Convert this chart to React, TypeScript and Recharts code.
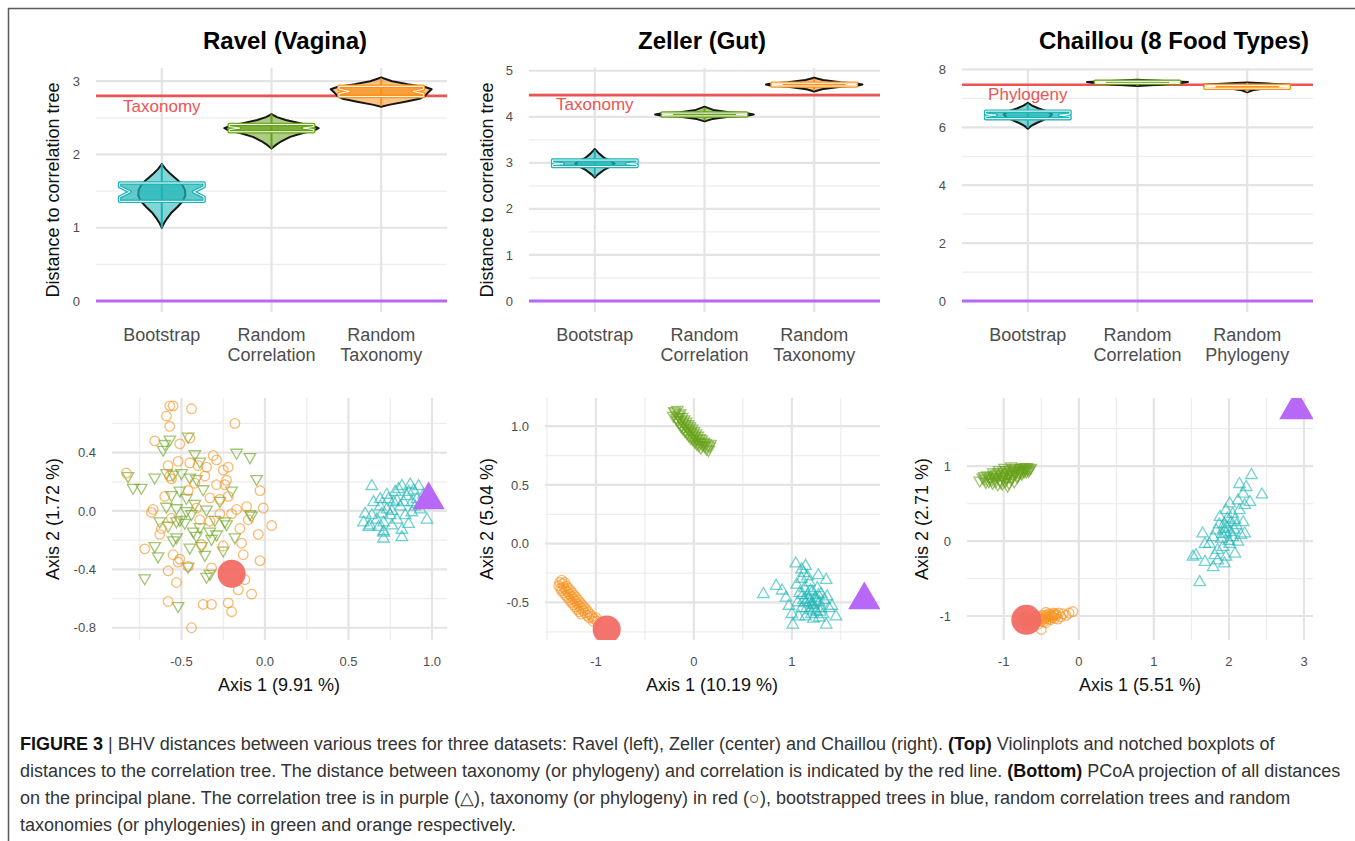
"use client";

import React from "react";
import { ScatterChart, Scatter, XAxis, YAxis, ReferenceLine } from "recharts";

const FONT = "'Liberation Sans', Arial, Helvetica, sans-serif";

const TEAL = "#1DB4B7";
const GREEN = "#68A21A";
const ORANGE = "#F7921E";
const RED = "#F26B65";
const RED_LINE = "#EC5453";
const PURPLE = "#B868F6";
const OUTLINE = "#161616";
const GRID_MAJOR = "#E4E4E4";
const GRID_MINOR = "#EDEDED";
const TICK = "#4D4D4D";

// plot-area padding inside every chart box
const PAD_L = 60;
const PAD_T = 10;
const PAD_R = 10;
const PAD_B = 70;

// ---------- top row: distances to the correlation tree ----------
const ravelGroups = [["Bootstrap"], ["Random", "Correlation"], ["Random", "Taxonomy"]];
const zellerGroups = [["Bootstrap"], ["Random", "Correlation"], ["Random", "Taxonomy"]];
const chaillouGroups = [["Bootstrap"], ["Random", "Correlation"], ["Random", "Phylogeny"]];

// violin outlines: [distance, half width of density]
const ravelBootViolin = [[1.0, 0], [1.06, 0.02], [1.12, 0.045], [1.2, 0.085], [1.28, 0.14], [1.36, 0.19], [1.44, 0.215], [1.52, 0.21], [1.6, 0.18], [1.67, 0.13], [1.74, 0.075], [1.8, 0.035], [1.87, 0]];
const ravelCorrViolin = [[2.08, 0], [2.13, 0.04], [2.18, 0.09], [2.24, 0.17], [2.29, 0.28], [2.33, 0.39], [2.36, 0.43], [2.39, 0.38], [2.43, 0.25], [2.47, 0.13], [2.51, 0.05], [2.55, 0]];
const ravelTaxViolin = [[2.65, 0], [2.68, 0.08], [2.72, 0.22], [2.76, 0.35], [2.8, 0.4], [2.85, 0.43], [2.89, 0.46], [2.92, 0.4], [2.96, 0.24], [3.0, 0.1], [3.05, 0]];
const zellerBootViolin = [[2.68, 0], [2.75, 0.03], [2.84, 0.08], [2.92, 0.14], [2.98, 0.18], [3.04, 0.15], [3.1, 0.09], [3.2, 0.04], [3.3, 0]];
const zellerCorrViolin = [[3.9, 0], [3.95, 0.07], [4.0, 0.22], [4.03, 0.4], [4.05, 0.45], [4.07, 0.4], [4.1, 0.22], [4.15, 0.08], [4.22, 0]];
const zellerTaxViolin = [[4.55, 0], [4.6, 0.07], [4.65, 0.24], [4.68, 0.4], [4.7, 0.44], [4.72, 0.4], [4.75, 0.24], [4.8, 0.08], [4.85, 0]];
const chaillouBootViolin = [[5.95, 0], [6.05, 0.03], [6.15, 0.08], [6.25, 0.14], [6.35, 0.2], [6.45, 0.22], [6.55, 0.18], [6.65, 0.1], [6.75, 0.04], [6.85, 0]];
const chaillouCorrViolin = [[7.43, 0], [7.47, 0.2], [7.52, 0.38], [7.57, 0.46], [7.6, 0.25], [7.64, 0]];
const chaillouPhyViolin = [[7.21, 0], [7.28, 0.05], [7.35, 0.17], [7.42, 0.39], [7.47, 0.39], [7.52, 0.15], [7.55, 0]];

// notched boxplots: [whiskerLow, q1, notchLow, median, notchHigh, q3, whiskerHigh]
const ravelBoxes = [
  [1.0, 1.36, 1.42, 1.49, 1.56, 1.61, 1.87],
  [2.08, 2.31, 2.34, 2.36, 2.38, 2.41, 2.55],
  [2.66, 2.79, 2.83, 2.86, 2.89, 2.93, 3.04],
];
const zellerBoxes = [
  [2.7, 2.92, 2.96, 2.98, 3.0, 3.06, 3.28],
  [3.92, 4.02, 4.04, 4.05, 4.06, 4.08, 4.2],
  [4.57, 4.67, 4.69, 4.7, 4.71, 4.73, 4.83],
];
const chaillouBoxes = [
  [5.98, 6.3, 6.38, 6.42, 6.46, 6.56, 6.82],
  [7.43, 7.52, 7.54, 7.56, 7.57, 7.59, 7.64],
  [7.22, 7.35, 7.38, 7.4, 7.42, 7.45, 7.54],
];

// [taxonomy or phylogeny distance, correlation tree]
const ravelReference = [2.8, 0];
const zellerReference = [4.47, 0];
const chaillouReference = [7.47, 0];
const ravelNote = [{ x: 1, y: 2.65 }];
const zellerNote = [{ x: 1, y: 4.26 }];
const chaillouNote = [{ x: 1, y: 7.13 }];

// ---------- bottom row: PCoA projections [axis1, axis2] ----------
const ravelRandomTax = [[-0.57, 0.72], [-0.55, 0.72], [-0.44, 0.7], [-0.59, 0.65], [-0.57, 0.58], [-0.18, 0.6], [-0.66, 0.48], [-0.51, 0.46], [-0.45, 0.5], [-0.52, 0.34], [-0.31, 0.38], [-0.29, 0.35], [-0.45, 0.33], [-0.4, 0.31], [-0.35, 0.3], [-0.58, 0.31], [-0.22, 0.3], [-0.83, 0.26], [-0.57, 0.24], [-0.56, 0.22], [-0.42, 0.19], [-0.29, 0.18], [-0.23, 0.21], [-0.24, 0.18], [-0.03, 0.14], [-0.46, 0.14], [-0.33, 0.09], [-0.22, 0.1], [-0.27, 0.08], [-0.11, 0.03], [-0.17, 0.01], [-0.01, 0.02], [-0.68, -0.01], [-0.67, 0.01], [-0.56, -0.05], [-0.39, -0.06], [-0.27, -0.02], [-0.2, -0.02], [-0.1, -0.06], [0.04, -0.1], [-0.04, -0.16], [-0.63, -0.16], [-0.14, -0.22], [-0.13, -0.3], [-0.72, -0.26], [-0.55, -0.3], [-0.52, -0.35], [-0.51, -0.33], [-0.58, -0.41], [-0.32, -0.39], [-0.03, -0.34], [-0.53, -0.49], [-0.16, -0.54], [-0.08, -0.57], [-0.58, -0.62], [-0.37, -0.64], [-0.32, -0.64], [-0.22, -0.63], [-0.2, -0.69], [-0.44, -0.8], [-0.25, -0.24], [-0.41, 0.02], [-0.33, -0.07], [-0.38, -0.23], [-0.25, 0.28], [-0.36, 0.24], [-0.6, 0.1], [-0.15, -0.12], [-0.46, -0.38], [-0.12, -0.47], [-0.62, -0.12]];
const ravelRandomCorr = [[-0.57, 0.49], [-0.6, 0.46], [-0.61, 0.42], [-0.46, 0.51], [-0.42, 0.39], [-0.39, 0.34], [-0.17, 0.4], [-0.09, 0.37], [-0.82, 0.24], [-0.79, 0.16], [-0.74, 0.16], [-0.66, 0.23], [-0.59, 0.26], [-0.55, 0.25], [-0.5, 0.26], [-0.45, 0.23], [-0.41, 0.22], [-0.51, 0.14], [-0.37, 0.15], [-0.2, 0.14], [-0.05, 0.22], [-0.59, 0.03], [-0.53, 0.02], [-0.47, 0.0], [-0.44, -0.02], [-0.35, 0.01], [-0.24, -0.07], [-0.23, -0.09], [-0.09, -0.02], [-0.63, -0.07], [-0.58, -0.1], [-0.53, -0.07], [-0.51, -0.06], [-0.39, -0.11], [-0.43, -0.14], [-0.33, -0.14], [-0.29, -0.16], [-0.18, -0.18], [-0.53, -0.18], [-0.66, -0.24], [-0.64, -0.31], [-0.45, -0.25], [-0.38, -0.24], [-0.32, -0.19], [-0.25, -0.27], [-0.46, -0.38], [-0.35, -0.45], [-0.33, -0.43], [-0.72, -0.46], [-0.52, -0.65], [-0.56, 0.11], [-0.47, 0.09], [-0.3, -0.06], [-0.41, -0.17], [-0.08, -0.03], [-0.48, -0.08], [-0.42, 0.05], [-0.27, 0.07], [-0.55, -0.2], [-0.36, -0.3]];
const ravelBootstrap = [[0.64, 0.17], [0.74, 0.08], [0.78, 0.13], [0.82, 0.17], [0.87, 0.18], [0.92, 0.17], [0.89, 0.14], [0.85, 0.1], [0.91, 0.08], [0.95, 0.11], [0.69, 0.03], [0.73, 0.01], [0.77, 0.06], [0.81, 0.03], [0.6, -0.02], [0.64, -0.03], [0.67, -0.06], [0.71, -0.08], [0.75, -0.03], [0.79, -0.06], [0.84, -0.03], [0.88, -0.01], [0.93, 0.01], [0.63, -0.1], [0.68, -0.11], [0.71, -0.14], [0.76, -0.1], [0.82, -0.13], [0.86, -0.09], [0.97, -0.06], [0.71, -0.19], [0.82, -0.18], [0.71, -0.15], [0.79, 0.07], [0.83, 0.06], [0.73, 0.11], [0.69, 0.08], [0.65, 0.06], [0.9, 0.03], [0.88, 0.06], [0.59, -0.08], [0.62, -0.11], [0.8, 0.15], [0.86, 0.13], [0.76, 0.0], [0.7, -0.02]];
const ravelTaxonomyTree = [[-0.2, -0.43]];
const ravelCorrelationTree = [[0.98, 0.075]];

const zellerRandomTax = [[-1.37, -0.33], [-1.35, -0.31], [-1.38, -0.36], [-1.34, -0.34], [-1.36, -0.38], [-1.32, -0.33], [-1.33, -0.37], [-1.35, -0.4], [-1.3, -0.36], [-1.31, -0.39], [-1.33, -0.42], [-1.28, -0.38], [-1.29, -0.41], [-1.31, -0.44], [-1.26, -0.4], [-1.27, -0.43], [-1.29, -0.46], [-1.24, -0.42], [-1.25, -0.45], [-1.27, -0.48], [-1.22, -0.44], [-1.23, -0.47], [-1.25, -0.5], [-1.2, -0.46], [-1.21, -0.49], [-1.23, -0.52], [-1.18, -0.48], [-1.19, -0.51], [-1.21, -0.54], [-1.16, -0.5], [-1.17, -0.53], [-1.19, -0.56], [-1.14, -0.52], [-1.15, -0.55], [-1.17, -0.58], [-1.12, -0.54], [-1.13, -0.57], [-1.15, -0.6], [-1.1, -0.56], [-1.11, -0.59], [-1.08, -0.58], [-1.09, -0.61], [-1.06, -0.6], [-1.07, -0.63], [-1.04, -0.62], [-1.02, -0.64], [-1.0, -0.63], [-1.03, -0.66], [-0.99, -0.66]];
const zellerRandomCorr = [[-0.19, 1.12], [-0.17, 1.14], [-0.21, 1.09], [-0.16, 1.1], [-0.18, 1.07], [-0.14, 1.11], [-0.15, 1.08], [-0.17, 1.05], [-0.12, 1.08], [-0.13, 1.05], [-0.15, 1.03], [-0.1, 1.06], [-0.11, 1.03], [-0.13, 1.0], [-0.08, 1.04], [-0.09, 1.01], [-0.11, 0.98], [-0.06, 1.02], [-0.07, 0.99], [-0.09, 0.96], [-0.04, 1.0], [-0.05, 0.97], [-0.07, 0.94], [-0.02, 0.98], [-0.03, 0.95], [-0.05, 0.92], [0.0, 0.96], [-0.01, 0.93], [-0.03, 0.9], [0.02, 0.94], [0.01, 0.91], [-0.01, 0.89], [0.04, 0.92], [0.03, 0.89], [0.01, 0.87], [0.06, 0.9], [0.05, 0.87], [0.03, 0.85], [0.08, 0.89], [0.07, 0.86], [0.05, 0.84], [0.1, 0.87], [0.09, 0.84], [0.07, 0.82], [0.12, 0.86], [0.11, 0.83], [0.14, 0.84], [0.13, 0.81], [0.16, 0.83], [0.15, 0.8], [0.17, 0.85], [-0.2, 1.13]];
const zellerBootstrap = [[0.71, -0.43], [0.84, -0.36], [0.94, -0.46], [1.04, -0.17], [1.1, -0.22], [1.14, -0.19], [1.35, -0.31], [1.27, -0.27], [1.45, -0.62], [1.41, -0.53], [1.01, -0.69], [1.35, -0.69], [0.9, -0.4], [0.97, -0.53], [1.0, -0.6], [1.05, -0.35], [1.08, -0.42], [1.1, -0.3], [1.12, -0.48], [1.13, -0.38], [1.15, -0.55], [1.16, -0.44], [1.18, -0.33], [1.18, -0.5], [1.2, -0.6], [1.21, -0.41], [1.22, -0.52], [1.24, -0.46], [1.25, -0.58], [1.26, -0.38], [1.28, -0.5], [1.3, -0.55], [1.3, -0.43], [1.32, -0.6], [1.33, -0.48], [1.1, -0.55], [1.07, -0.62], [1.14, -0.62], [1.22, -0.64], [1.28, -0.63], [1.16, -0.28], [1.12, -0.25], [1.06, -0.5], [1.38, -0.55], [1.36, -0.45], [1.17, -0.47], [1.19, -0.4], [1.23, -0.55], [1.27, -0.44], [1.14, -0.5], [1.2, -0.52], [1.25, -0.49], [1.11, -0.44], [1.29, -0.58], [1.19, -0.57]];
const zellerTaxonomyTree = [[-0.89, -0.73]];
const zellerCorrelationTree = [[1.74, -0.48]];

const chaillouRandomPhy = [[-0.78, -1.08], [-0.74, -1.04], [-0.72, -1.1], [-0.7, -1.02], [-0.68, -1.07], [-0.65, -1.12], [-0.63, -1.03], [-0.61, -1.08], [-0.58, -1.0], [-0.56, -1.05], [-0.54, -1.11], [-0.52, -1.02], [-0.5, -1.07], [-0.5, -1.18], [-0.48, -0.99], [-0.46, -1.04], [-0.44, -1.09], [-0.42, -1.01], [-0.4, -0.97], [-0.38, -1.05], [-0.36, -1.0], [-0.34, -0.96], [-0.32, -1.03], [-0.3, -0.99], [-0.27, -0.96], [-0.24, -1.01], [-0.21, -0.97], [-0.17, -0.99], [-0.13, -0.96], [-0.08, -0.94], [-0.6, -1.14], [-0.44, -0.95], [-0.28, -1.04], [-0.66, -0.98], [-0.76, -1.06], [-0.73, -1.01], [-0.71, -1.07], [-0.69, -1.12], [-0.67, -1.03], [-0.64, -1.08], [-0.62, -1.05], [-0.59, -1.1], [-0.57, -1.02], [-0.55, -1.07], [-0.53, -1.05], [-0.51, -1.0], [-0.49, -1.04], [-0.47, -1.08], [-0.45, -1.02], [-0.43, -0.99], [-0.41, -1.04], [-0.39, -1.01], [-0.37, -0.98], [-0.35, -1.02], [-0.33, -0.99], [-0.31, -0.97]];
const chaillouRandomCorr = [[-1.32, 0.81], [-1.25, 0.83], [-1.2, 0.8], [-1.18, 0.86], [-1.15, 0.78], [-1.12, 0.84], [-1.1, 0.9], [-1.08, 0.76], [-1.05, 0.82], [-1.03, 0.88], [-1.0, 0.93], [-0.98, 0.8], [-0.96, 0.86], [-0.94, 0.91], [-0.92, 0.96], [-0.9, 0.83], [-0.88, 0.89], [-0.86, 0.94], [-0.84, 0.98], [-0.82, 0.86], [-0.8, 0.92], [-0.78, 0.97], [-0.76, 0.9], [-0.74, 0.95], [-0.72, 0.99], [-0.7, 0.93], [-0.68, 0.97], [-0.66, 0.96], [-1.06, 0.95], [-0.95, 0.74], [-1.14, 0.92], [-0.86, 0.8], [-0.99, 0.98], [-0.9, 1.0], [-1.22, 0.88], [-1.02, 0.77], [-1.28, 0.85], [-1.24, 0.79], [-1.16, 0.82], [-1.13, 0.88], [-1.11, 0.8], [-1.09, 0.86], [-1.07, 0.92], [-1.04, 0.79], [-1.01, 0.85], [-0.99, 0.9], [-0.97, 0.95], [-0.97, 0.83], [-0.93, 0.88], [-0.91, 0.93], [-0.89, 0.86], [-0.87, 0.97], [-0.85, 0.9], [-0.83, 0.94], [-0.81, 0.88], [-0.79, 0.95], [-0.77, 0.92], [-0.75, 0.98], [-0.73, 0.93], [-0.71, 0.96], [-0.69, 0.99], [-0.67, 0.94], [-0.93, 0.78], [-1.19, 0.84], [-1.26, 0.87], [-0.64, 0.98]];
const chaillouBootstrap = [[2.3, 0.88], [2.44, 0.62], [2.14, 0.76], [2.23, 0.72], [2.19, 0.63], [2.12, 0.54], [2.28, 0.52], [2.21, 0.48], [2.01, 0.5], [1.96, 0.41], [2.05, 0.36], [2.14, 0.41], [1.88, 0.32], [1.94, 0.23], [2.03, 0.25], [2.1, 0.21], [2.19, 0.25], [2.21, 0.1], [1.83, 0.14], [1.79, 0.05], [1.9, 0.03], [1.96, 0.1], [2.05, 0.05], [2.01, -0.04], [1.92, -0.08], [1.85, -0.12], [1.65, 0.1], [1.68, -0.04], [1.74, -0.04], [1.56, -0.19], [1.52, -0.21], [1.81, -0.19], [1.85, -0.26], [1.96, -0.21], [2.08, -0.17], [1.68, -0.28], [1.79, -0.35], [1.94, -0.3], [1.61, -0.55], [2.16, 0.08], [2.12, -0.01], [1.98, 0.3], [1.93, 0.16], [2.07, 0.15], [1.97, 0.18], [2.02, 0.12], [1.91, 0.09], [2.08, 0.28], [1.87, 0.22], [2.0, 0.0]];
const chaillouTaxonomyTree = [[-0.7, -1.05]];
const chaillouCorrelationTree = [[2.9, 1.76]];

const pts = (rows: number[][]) => rows.map(([x, y]) => ({ x, y }));

// ---------- drawing helpers ----------
const noDot = () => <g />;

const pathOf = (p: any, close: boolean) =>
  (p.points || []).map((q: any, i: number) => `${i ? "L" : "M"}${q.x},${q.y}`).join("") + (close ? "Z" : "");

const polygon = (fill: string, fillOpacity: number, stroke: string, strokeWidth: number, close = true) => (p: any) => (
  <path d={pathOf(p, close)} fill={fill} fillOpacity={fillOpacity} stroke={stroke} strokeWidth={strokeWidth} strokeLinejoin="round" />
);

const violinOutline = (cat: number, profile: number[][]) => {
  const right = profile.map(([v, w]) => ({ x: cat + w, y: v }));
  const left = profile.slice().reverse().map(([v, w]) => ({ x: cat - w, y: v }));
  return [...right, ...left];
};

const BOX_HW = 0.385;
const NOTCH = 0.25;
const boxOutline = (cat: number, b: number[]) => {
  const [, q1, nlo, med, nhi, q3] = b;
  const l = cat - BOX_HW;
  const r = cat + BOX_HW;
  const ind = BOX_HW * NOTCH;
  return [
    { x: l, y: q3 }, { x: l, y: nhi }, { x: l + ind, y: med }, { x: l, y: nlo }, { x: l, y: q1 },
    { x: r, y: q1 }, { x: r, y: nlo }, { x: r - ind, y: med }, { x: r, y: nhi }, { x: r, y: q3 },
  ];
};

const hollowCircle = (color: string) => (p: any) => (
  <circle cx={p.cx} cy={p.cy} r={4.8} fill="none" stroke={color} strokeWidth={1.3} strokeOpacity={0.62} />
);
const triPath = (cx: number, cy: number, size: number, down: boolean) => {
  const h = size * 0.866;
  const s = down ? -1 : 1;
  return `M${cx},${cy - (s * 2 * h) / 3}L${cx + size / 2},${cy + (s * h) / 3}L${cx - size / 2},${cy + (s * h) / 3}Z`;
};
const hollowTriangle = (color: string, size: number, down: boolean) => (p: any) => (
  <path d={triPath(p.cx, p.cy, size, down)} fill="none" stroke={color} strokeWidth={1.3} strokeOpacity={0.62} />
);

// big markers are clipped to the plot panel like ggplot does
const clippedMarker = (id: string, w: number, h: number, draw: (cx: number, cy: number) => React.ReactNode) => (p: any) => (
  <g>
    <defs>
      <clipPath id={id}>
        <rect x={PAD_L} y={PAD_T} width={w} height={h} />
      </clipPath>
    </defs>
    <g clipPath={`url(#${id})`}>{draw(p.cx, p.cy)}</g>
  </g>
);

const noteShape = (text: string) => (p: any) => (
  <text x={p.cx} y={p.cy} textAnchor="middle" dominantBaseline="central" fill={RED_LINE} fontSize={17} fontFamily={FONT}>
    {text}
  </text>
);

type FrameProps = {
  left: number;
  top: number;
  width: number;
  height: number;
  xDomain: [number, number];
  yDomain: [number, number];
  xTicks: number[];
  yTicks: number[];
  xMinor: number[];
  yMinor: number[];
  xFormat?: (v: number) => string;
  yFormat?: (v: number) => string;
  groups?: string[][];
  children?: React.ReactNode;
};

function PlotFrame(p: FrameProps) {
  const groupTick = (tp: any) => {
    const lines = (p.groups || [])[Math.round(tp.payload.value) - 1] || [];
    return (
      <text x={tp.x} y={tp.y} textAnchor="middle" fill={TICK} fontSize={18} fontFamily={FONT}>
        {lines.map((l, i) => (
          <tspan key={i} x={tp.x} dy={i === 0 ? "0.75em" : 20}>
            {l}
          </tspan>
        ))}
      </text>
    );
  };
  return (
    <div style={{ position: "absolute", left: p.left - PAD_L, top: p.top - PAD_T }}>
      <ScatterChart
        width={p.width + PAD_L + PAD_R}
        height={p.height + PAD_T + PAD_B}
        margin={{ top: PAD_T, right: PAD_R, bottom: 10, left: PAD_L - 44 }}
      >
        <XAxis
          type="number"
          dataKey="x"
          domain={p.xDomain}
          ticks={p.xTicks}
          interval={0}
          allowDataOverflow
          axisLine={false}
          tickLine={false}
          tickSize={0}
          height={PAD_B - 10}
          tickMargin={p.groups ? 15 : 17}
          tick={p.groups ? groupTick : { fill: TICK, fontSize: 13, fontFamily: FONT }}
          tickFormatter={p.xFormat}
        />
        <YAxis
          type="number"
          dataKey="y"
          domain={p.yDomain}
          ticks={p.yTicks}
          interval={0}
          allowDataOverflow
          axisLine={false}
          tickLine={false}
          tickSize={0}
          width={44}
          tickMargin={16}
          tick={{ fill: TICK, fontSize: 13, fontFamily: FONT }}
          tickFormatter={p.yFormat}
        />
        {p.yMinor.map((v) => (
          <ReferenceLine key={`ym${v}`} y={v} stroke={GRID_MINOR} strokeWidth={1.2} />
        ))}
        {p.xMinor.map((v) => (
          <ReferenceLine key={`xm${v}`} x={v} stroke={GRID_MINOR} strokeWidth={1.2} />
        ))}
        {p.yTicks.map((v) => (
          <ReferenceLine key={`yM${v}`} y={v} stroke={GRID_MAJOR} strokeWidth={2.2} />
        ))}
        {p.xTicks.map((v) => (
          <ReferenceLine key={`xM${v}`} x={v} stroke={GRID_MAJOR} strokeWidth={2.2} />
        ))}
        {p.children}
      </ScatterChart>
    </div>
  );
}

const groupColors = [TEAL, GREEN, ORANGE];

function violinSeries(tag: string, violins: number[][][], boxes: number[][]) {
  const out: React.ReactNode[] = [];
  violins.forEach((v, i) => {
    const cat = i + 1;
    const c = groupColors[i];
    const b = boxes[i];
    out.push(
      <Scatter key={`${tag}v${i}`} data={violinOutline(cat, v)} shape={noDot} line={polygon(c, 0.55, OUTLINE, 2)} isAnimationActive={false} />,
      <Scatter key={`${tag}w${i}`} data={[{ x: cat, y: b[0] }, { x: cat, y: b[6] }]} shape={noDot} line={polygon("none", 0, c, 2, false)} isAnimationActive={false} />,
      <Scatter key={`${tag}b${i}`} data={boxOutline(cat, b)} shape={noDot} line={polygon(c, 0.7, c, 3.5)} isAnimationActive={false} />,
      <Scatter key={`${tag}i${i}`} data={boxOutline(cat, b)} shape={noDot} line={polygon("none", 0, "#ffffff", 1)} isAnimationActive={false} />
    );
  });
  return out;
}

function referenceLines(tag: string, refs: number[]) {
  return [
    <ReferenceLine key={`${tag}r0`} y={refs[0]} stroke={RED_LINE} strokeWidth={2.6} />,
    <ReferenceLine key={`${tag}r1`} y={refs[1]} stroke={PURPLE} strokeWidth={3} />,
  ];
}

function pcoaSeries(
  tag: string, w: number, h: number,
  corr: number[][], tax: number[][], boot: number[][], taxTree: number[][], corrTree: number[][], big: number
) {
  return [
    <Scatter key={`${tag}g`} data={pts(corr)} shape={hollowTriangle(GREEN, 11.5, true)} isAnimationActive={false} />,
    <Scatter key={`${tag}o`} data={pts(tax)} shape={hollowCircle(ORANGE)} isAnimationActive={false} />,
    <Scatter key={`${tag}t`} data={pts(boot)} shape={hollowTriangle(TEAL, 11.5, false)} isAnimationActive={false} />,
    <Scatter key={`${tag}r`} data={pts(taxTree)} isAnimationActive={false}
      shape={clippedMarker(`${tag}clipR`, w, h, (cx, cy) => <circle cx={cx} cy={cy} r={big} fill={RED} fillOpacity={0.95} />)} />,
    <Scatter key={`${tag}p`} data={pts(corrTree)} isAnimationActive={false}
      shape={clippedMarker(`${tag}clipP`, w, h, (cx, cy) => <path d={triPath(cx, cy, big * 2.3, false)} fill={PURPLE} />)} />,
  ];
}

function Overlay() {
  const t = { fontFamily: FONT };
  return (
    <svg width={1355} height={841} style={{ position: "absolute", left: 0, top: 0 }}>
      <line x1={8} y1={8.5} x2={1355} y2={8.5} stroke="#5a5a5a" strokeWidth={1.5} />
      <line x1={8.5} y1={8} x2={8.5} y2={841} stroke="#5a5a5a" strokeWidth={1.5} />

      <text x={285} y={49} textAnchor="middle" fontSize={24} fontWeight="bold" {...t}>Ravel (Vagina)</text>
      <text x={702} y={49} textAnchor="middle" fontSize={24} fontWeight="bold" {...t}>Zeller (Gut)</text>
      <text x={1174} y={49} textAnchor="middle" fontSize={24} fontWeight="bold" {...t}>Chaillou (8 Food Types)</text>

      <text transform="translate(53,190) rotate(-90)" textAnchor="middle" dominantBaseline="central" fontSize={18} fill="#111" {...t}>Distance to correlation tree</text>
      <text transform="translate(487,190) rotate(-90)" textAnchor="middle" dominantBaseline="central" fontSize={18} fill="#111" {...t}>Distance to correlation tree</text>

      <text transform="translate(53,519) rotate(-90)" textAnchor="middle" dominantBaseline="central" fontSize={18} fill="#111" {...t}>Axis 2 (1.72 %)</text>
      <text transform="translate(487,519) rotate(-90)" textAnchor="middle" dominantBaseline="central" fontSize={18} fill="#111" {...t}>Axis 2 (5.04 %)</text>
      <text transform="translate(922,519) rotate(-90)" textAnchor="middle" dominantBaseline="central" fontSize={18} fill="#111" {...t}>Axis 2 (2.71 %)</text>

      <text x={279} y={685} textAnchor="middle" dominantBaseline="central" fontSize={18} fill="#111" {...t}>Axis 1 (9.91 %)</text>
      <text x={712} y={685} textAnchor="middle" dominantBaseline="central" fontSize={18} fill="#111" {...t}>Axis 1 (10.19 %)</text>
      <text x={1140} y={685} textAnchor="middle" dominantBaseline="central" fontSize={18} fill="#111" {...t}>Axis 1 (5.51 %)</text>

      <g fontFamily={FONT} fontSize={18} fill="#333">
        <text x={20} y={750}>
          <tspan fontWeight="bold" fill="#111">FIGURE 3</tspan>
          <tspan>{" | BHV distances between various trees for three datasets: Ravel (left), Zeller (center) and Chaillou (right). "}</tspan>
          <tspan fontWeight="bold" fill="#111">(Top)</tspan>
          <tspan>{" Violinplots and notched boxplots of"}</tspan>
        </text>
        <text x={20} y={777}>
          <tspan>{"distances to the correlation tree. The distance between taxonomy (or phylogeny) and correlation is indicated by the red line. "}</tspan>
          <tspan fontWeight="bold" fill="#111">(Bottom)</tspan>
          <tspan>{" PCoA projection of all distances"}</tspan>
        </text>
        <text x={20} y={804}>
          on the principal plane. The correlation tree is in purple (△), taxonomy (or phylogeny) in red (○), bootstrapped trees in blue, random correlation trees and random
        </text>
        <text x={20} y={831}>taxonomies (or phylogenies) in green and orange respectively.</text>
      </g>
    </svg>
  );
}

export default function App() {
  const f1 = (v: number) => v.toFixed(1);
  const f0 = (v: number) => String(v);
  return (
    <div style={{ position: "absolute", left: 0, top: 0, width: 1355, height: 841, background: "#fff", fontFamily: FONT }}>
      <Overlay />

      <PlotFrame left={96} top={68} width={351} height={244} xDomain={[0.4, 3.6]} yDomain={[-0.15, 3.18]}
        xTicks={[1, 2, 3]} yTicks={[0, 1, 2, 3]} xMinor={[]} yMinor={[0.5, 1.5, 2.5]} groups={ravelGroups}>
        {referenceLines("rv", ravelReference)}
        {violinSeries("rv", [ravelBootViolin, ravelCorrViolin, ravelTaxViolin], ravelBoxes)}
        <Scatter data={ravelNote} shape={noteShape("Taxonomy")} isAnimationActive={false} />
      </PlotFrame>

      <PlotFrame left={529} top={68} width={351} height={244} xDomain={[0.4, 3.6]} yDomain={[-0.24, 5.06]}
        xTicks={[1, 2, 3]} yTicks={[0, 1, 2, 3, 4, 5]} xMinor={[]} yMinor={[0.5, 1.5, 2.5, 3.5, 4.5]} groups={zellerGroups}>
        {referenceLines("ze", zellerReference)}
        {violinSeries("ze", [zellerBootViolin, zellerCorrViolin, zellerTaxViolin], zellerBoxes)}
        <Scatter data={zellerNote} shape={noteShape("Taxonomy")} isAnimationActive={false} />
      </PlotFrame>

      <PlotFrame left={962} top={68} width={351} height={244} xDomain={[0.4, 3.6]} yDomain={[-0.38, 8.05]}
        xTicks={[1, 2, 3]} yTicks={[0, 2, 4, 6, 8]} xMinor={[]} yMinor={[1, 3, 5, 7]} groups={chaillouGroups}>
        {referenceLines("ch", chaillouReference)}
        {violinSeries("ch", [chaillouBootViolin, chaillouCorrViolin, chaillouPhyViolin], chaillouBoxes)}
        <Scatter data={chaillouNote} shape={noteShape("Phylogeny")} isAnimationActive={false} />
      </PlotFrame>

      <PlotFrame left={112} top={398} width={335} height={242} xDomain={[-0.916, 1.09]} yDomain={[-0.884, 0.774]}
        xTicks={[-0.5, 0, 0.5, 1]} yTicks={[-0.8, -0.4, 0, 0.4]} xMinor={[-0.75, -0.25, 0.25, 0.75]} yMinor={[-0.6, -0.2, 0.2, 0.6]}
        xFormat={f1} yFormat={f1}>
        {pcoaSeries("rp", 335, 242, ravelRandomCorr, ravelRandomTax, ravelBootstrap, ravelTaxonomyTree, ravelCorrelationTree, 14)}
      </PlotFrame>

      <PlotFrame left={545} top={398} width={335} height={242} xDomain={[-1.52, 1.9]} yDomain={[-0.82, 1.24]}
        xTicks={[-1, 0, 1]} yTicks={[-0.5, 0, 0.5, 1]} xMinor={[-1.5, -0.5, 0.5, 1.5]} yMinor={[-0.75, -0.25, 0.25, 0.75]}
        xFormat={f0} yFormat={f1}>
        {pcoaSeries("zp", 335, 242, zellerRandomCorr, zellerRandomTax, zellerBootstrap, zellerTaxonomyTree, zellerCorrelationTree, 14)}
      </PlotFrame>

      <PlotFrame left={967} top={398} width={346} height={242} xDomain={[-1.49, 3.12]} yDomain={[-1.32, 1.91]}
        xTicks={[-1, 0, 1, 2, 3]} yTicks={[-1, 0, 1]} xMinor={[-0.5, 0.5, 1.5, 2.5]} yMinor={[-0.5, 0.5, 1.5]}
        xFormat={f0} yFormat={f0}>
        {pcoaSeries("cp", 346, 242, chaillouRandomCorr, chaillouRandomPhy, chaillouBootstrap, chaillouTaxonomyTree, chaillouCorrelationTree, 15)}
      </PlotFrame>
    </div>
  );
}
